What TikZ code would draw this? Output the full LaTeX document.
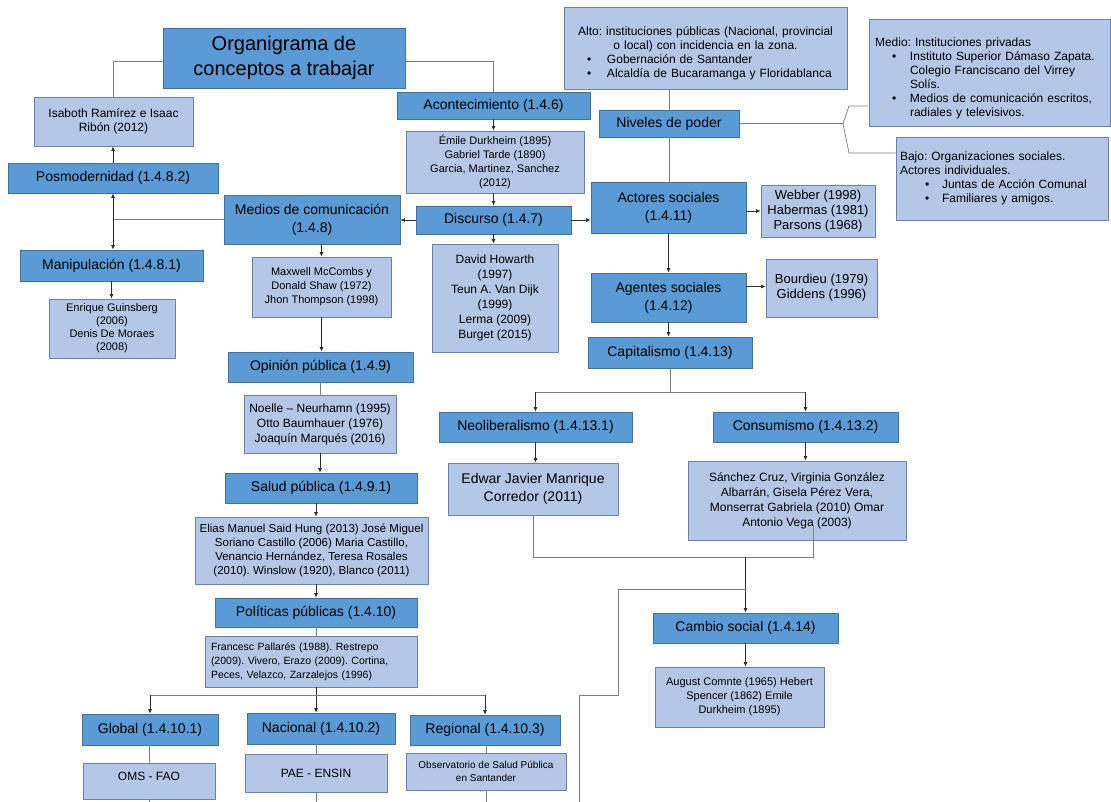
\documentclass[tikz,border=0pt]{standalone}
\usepackage{fontspec}
\setmainfont{Liberation Sans}
\frenchspacing
\usetikzlibrary{arrows.meta,calc}
\definecolor{boxdark}{RGB}{91,155,213}
\definecolor{edgedark}{RGB}{65,113,156}
\definecolor{boxlight}{RGB}{180,199,231}
\definecolor{edgelight}{RGB}{105,130,175}
\definecolor{wiregray}{RGB}{125,125,125}
\definecolor{tipgray}{RGB}{45,45,45}

\begin{document}
\begin{tikzpicture}[x=1pt,y=-1pt,
    box/.style={rectangle,draw,inner sep=2pt,align=center,line width=0.8pt},
    darkbox/.style={box,fill=boxdark,draw=edgedark,font=\fontsize{14}{18}\selectfont},
    lightbox/.style={box,fill=boxlight,draw=edgelight,font=\fontsize{11}{14}\selectfont},
    wire/.style={draw=wiregray,line width=0.7pt},
    pointer/.style={draw=tipgray,line width=0.7pt,-{Latex[length=4.5pt,width=4pt]}}]

            \fill[white] (0,0) rectangle (1111,802);
            \useasboundingbox (0,0) rectangle (1111,802);

            % left side
            \node[darkbox,font=\fontsize{20}{25}\selectfont,minimum width=242pt,minimum height=60pt] (titulo) at (284,58) {Organigrama de\\conceptos a trabajar};
            \node[lightbox,font=\fontsize{12}{14}\selectfont,minimum width=159pt,minimum height=49pt] (ramirez) at (113.5,121.5) {Isaboth Ramírez e Isaac\\Ribón (2012)};
            \node[darkbox,minimum width=210pt,minimum height=30pt] (posmod) at (113,178) {Posmodernidad (1.4.8.2)};
            \node[darkbox,minimum width=176pt,minimum height=49pt] (medios) at (312,219.5) {Medios de comunicación\\(1.4.8)};
            \node[darkbox,minimum width=183pt,minimum height=31pt] (manip) at (111.5,265.5) {Manipulación (1.4.8.1)};
            \node[lightbox,font=\fontsize{11}{13}\selectfont,minimum width=126pt,minimum height=59pt] (guinsberg) at (112,328.5) {Enrique Guinsberg\\(2006)\\Denis De Moraes\\(2008)};
            \node[lightbox,minimum width=139pt,minimum height=60pt] (mccombs) at (321.5,287) {Maxwell McCombs y\\Donald Shaw (1972)\\Jhon Thompson (1998)};
            \node[darkbox,minimum width=185pt,minimum height=30pt] (opinion) at (320.5,367) {Opinión pública (1.4.9)};
            \node[lightbox,font=\fontsize{12}{15}\selectfont,minimum width=152pt,minimum height=58pt] (noelle) at (320,424) {Noelle – Neurhamn (1995)\\Otto Baumhauer (1976)\\Joaquín Marqués (2016)};
            \node[darkbox,minimum width=192pt,minimum height=30pt] (salud) at (321,488) {Salud pública (1.4.9.1)};
            \node[lightbox,font=\fontsize{11.5}{14}\selectfont,minimum width=233pt,minimum height=67pt] (said) at (311.5,550.5) {Elias Manuel Said Hung (2013) José Miguel\\Soriano Castillo (2006) Maria Castillo,\\Venancio Hernández, Teresa Rosales\\(2010). Winslow (1920), Blanco (2011)};
            \node[darkbox,minimum width=202pt,minimum height=29pt] (politicas) at (316,612.5) {Políticas públicas (1.4.10)};
            \node[lightbox,font=\fontsize{10.5}{14}\selectfont,align=left,text width=200pt,inner xsep=6pt,minimum width=212pt,minimum height=51pt] (pallares) at (311,661.5) {Francesc Pallarés (1988). Restrepo\\(2009). Vivero, Erazo (2009). Cortina,\\Peces, Velazco, Zarzalejos (1996)};
            \node[darkbox,minimum width=136pt,minimum height=31pt] (global) at (150,729.5) {Global (1.4.10.1)};
            \node[darkbox,minimum width=148pt,minimum height=31pt] (nacional) at (321,728.5) {Nacional (1.4.10.2)};
            \node[darkbox,minimum width=150pt,minimum height=30pt] (regional) at (485,730) {Regional (1.4.10.3)};
            \node[lightbox,font=\fontsize{12}{14}\selectfont,text height=3pt,text depth=5pt,minimum width=132pt,minimum height=36pt] (oms) at (149,781) {OMS - FAO};
            \node[lightbox,font=\fontsize{12}{14}\selectfont,minimum width=142pt,minimum height=38pt] (pae) at (316,773) {PAE - ENSIN};
            \node[lightbox,font=\fontsize{10}{13}\selectfont,minimum width=160pt,minimum height=37pt] (observatorio) at (486,771.5) {Observatorio de Salud Pública\\en Santander};

            % middle
            \node[darkbox,minimum width=193pt,minimum height=27pt] (acontec) at (493.5,105.5) {Acontecimiento (1.4.6)};
            \node[lightbox,minimum width=178pt,minimum height=62pt] (durkheim) at (495,162) {Émile Durkheim (1895)\\Gabriel Tarde (1890)\\Garcia, Martinez, Sanchez\\(2012)};
            \node[darkbox,minimum width=155pt,minimum height=28pt] (discurso) at (493.5,220) {Discurso (1.4.7)};
            \node[lightbox,font=\fontsize{12}{15}\selectfont,minimum width=126pt,minimum height=108pt] (howarth) at (495,298) {David Howarth\\(1997)\\Teun A. Van Dijk\\(1999)\\Lerma (2009)\\Burget (2015)};

            % right side
            \node[lightbox,font=\fontsize{12}{14}\selectfont,align=left,text width=277pt,inner xsep=3pt,minimum width=283pt,minimum height=82pt] (alto) at (705.5,48) {\centering\rule{0pt}{19pt}Alto: instituciones públicas (Nacional, provincial\\o local) con incidencia en la zona.\par\raggedright\hspace*{20pt}\makebox[20pt][l]{\textbullet}Gobernación de Santander\\\hspace*{20pt}\makebox[20pt][l]{\textbullet}Alcaldía de Bucaramanga y Floridablanca};
            \node[darkbox,minimum width=140pt,minimum height=27pt] (niveles) at (669,123.5) {Niveles de poder};
            \node[lightbox,font=\fontsize{12}{14}\selectfont,align=left,text width=229pt,inner xsep=6pt,minimum width=237pt,minimum height=107pt] (medio) at (989.5,72.5) {\rule{0pt}{20pt}Medio: Instituciones privadas\\\hspace*{17pt}\makebox[18pt][l]{\textbullet}Instituto Superior Dámaso Zapata.\\\hspace*{35pt}Colegio Franciscano del Virrey\\\hspace*{35pt}Solís.\\\hspace*{17pt}\makebox[18pt][l]{\textbullet}Medios de comunicación escritos,\\\hspace*{35pt}radiales y televisivos.};
            \node[lightbox,font=\fontsize{12}{14}\selectfont,align=left,text width=204pt,inner xsep=4pt,minimum width=212pt,minimum height=83pt] (bajo) at (1002,178.5) {Bajo: Organizaciones sociales.\\Actores individuales.\\\hspace*{25pt}\makebox[17pt][l]{\textbullet}Juntas de Acción Comunal\\\hspace*{25pt}\makebox[17pt][l]{\textbullet}Familiares y amigos.};
            \node[darkbox,minimum width=155pt,minimum height=51pt] (actores) at (668.5,207.5) {Actores sociales\\(1.4.11)};
            \node[lightbox,font=\fontsize{13}{15}\selectfont,minimum width=114pt,minimum height=52pt] (webber) at (818,211) {Webber (1998)\\Habermas (1981)\\Parsons (1968)};
            \node[darkbox,minimum width=155pt,minimum height=49pt] (agentes) at (668.5,297.5) {Agentes sociales\\(1.4.12)};
            \node[lightbox,font=\fontsize{13}{15}\selectfont,minimum width=111pt,minimum height=58pt] (bourdieu) at (821.5,288) {Bourdieu (1979)\\Giddens (1996)};
            \node[darkbox,minimum width=164pt,minimum height=31pt] (capital) at (670,352.5) {Capitalismo (1.4.13)};
            \node[darkbox,minimum width=193pt,minimum height=30pt] (neolib) at (535.5,427) {Neoliberalismo (1.4.13.1)};
            \node[darkbox,minimum width=185pt,minimum height=30pt] (consumo) at (805.5,427) {Consumismo (1.4.13.2)};
            \node[lightbox,font=\fontsize{14}{18}\selectfont,minimum width=170pt,minimum height=52pt] (manrique) at (533,489) {Edwar Javier Manrique\\Corredor (2011)};
            \node[lightbox,font=\fontsize{12}{15}\selectfont,minimum width=218pt,minimum height=79pt] (sanchez) at (797,500.5) {Sánchez Cruz, Virginia González\\Albarrán, Gisela Pérez Vera,\\Monserrat Gabriela (2010) Omar\\Antonio Vega (2003)};
            \node[darkbox,minimum width=185pt,minimum height=30pt] (cambio) at (745.5,628) {Cambio social (1.4.14)};
            \node[lightbox,minimum width=169pt,minimum height=60pt] (comte) at (739.5,697) {August Comnte (1965) Hebert\\Spencer (1862) Emile\\Durkheim (1895)};

            % joints and free ends
            \coordinate (medjoin) at (medios.west -| posmod.south);
            \coordinate (polsplit) at (316,695);
            \coordinate (capjoin) at ($(capital.south)+(0,24)$);
            \coordinate (brace) at (843,123.5);
            \coordinate (braceup) at (849,106);
            \coordinate (bracedown) at (849,153);
            \coordinate (sanchezfoot) at ([xshift=16pt,yshift=15pt]sanchez.south);
            \coordinate (mergeL) at ($(manrique.south)+(0,42)$);
            \coordinate (mergeC) at (mergeL -| cambio.north);
            \coordinate (detour) at ($(mergeC)+(0,32)$);
            \coordinate (offpage) at (579,815);

            % connectors, left
            \draw[wire] ([yshift=-3pt]titulo.west) -| (ramirez.north);
            \draw[pointer] (posmod.north) -- (posmod.north |- ramirez.south);
            \draw[wire] (medios.west) -- (medjoin);
            \draw[pointer] (medjoin) -- (posmod.south);
            \draw[pointer] (medjoin) -- (medjoin |- manip.north);
            \draw[pointer] (manip.south) -- (manip.south |- guinsberg.north);
            \draw[pointer] (mccombs.north |- medios.south) -- (mccombs.north);
            \draw[pointer] (mccombs.south) -- (mccombs.south |- opinion.north);
            \draw[wire] (opinion.south) -- (opinion.south |- noelle.north);
            \draw[pointer] (noelle.south) -- (noelle.south |- salud.north);
            \draw[pointer] (politicas.north |- salud.south) -- (politicas.north |- said.north);
            \draw[pointer] (politicas.north |- said.south) -- (politicas.north);
            \draw[wire] (politicas.south) -- (politicas.south |- pallares.north);
            \draw[pointer] (polsplit |- pallares.south) -- (polsplit |- nacional.north);
            \draw[wire] (polsplit -| global.north) -- (polsplit -| regional.north);
            \draw[pointer] (polsplit -| global.north) -- (global.north);
            \draw[pointer] (polsplit -| regional.north) -- (regional.north);
            \draw[wire] (oms.north |- global.south) -- (oms.north);
            \draw[wire] (oms.south) -- (oms.south |- offpage);
            \draw[wire] (polsplit |- nacional.south) -- (polsplit |- pae.north);
            \draw[wire] (pae.south) -- (pae.south |- offpage);
            \draw[wire] (observatorio.north |- regional.south) -- (observatorio.north);
            \draw[wire] (observatorio.south) -- (observatorio.south |- offpage);

            % connectors, middle
            \draw[wire] ([yshift=-3pt]titulo.east) -| (acontec.north);
            \draw[pointer] (acontec.south) -- (acontec.south |- durkheim.north);
            \draw[pointer] (acontec.south |- durkheim.south) -- (discurso.north);
            \draw[pointer] (discurso.west) -- (discurso.west -| medios.east);
            \draw[pointer] (discurso.east) -- (discurso.east -| actores.west);
            \draw[pointer] (discurso.south) -- (discurso.south |- howarth.north);

            % connectors, right
            \draw[wire] (niveles.north) -- (niveles.north |- alto.south);
            \draw[wire] (niveles.south) -- (niveles.south |- actores.north);
            \draw[wire] (niveles.east) -- (brace) -- (braceup) -- (braceup -| medio.west);
            \draw[wire] (brace) -- (bracedown) -- (bracedown -| bajo.west);
            \draw[pointer] ([yshift=-3.5pt]actores.east) -- ([yshift=-3.5pt]actores.east -| webber.west);
            \draw[pointer] (actores.south) -- (actores.south |- agentes.north);
            \draw[pointer] ([yshift=11pt]agentes.east) -- ([yshift=11pt]agentes.east -| bourdieu.west);
            \draw[pointer] (agentes.south) -- (agentes.south |- capital.north);
            \draw[wire] (capital.south) -- (capjoin);
            \draw[wire] (capjoin -| neolib.north) -- (capjoin -| consumo.north);
            \draw[pointer] (capjoin -| neolib.north) -- (neolib.north);
            \draw[pointer] (capjoin -| consumo.north) -- (consumo.north);
            \draw[pointer] (neolib.south) -- (neolib.south |- manrique.north);
            \draw[pointer] (consumo.south) -- (consumo.south |- sanchez.north);
            \draw[wire] (manrique.south) -- (mergeL) -- (mergeL -| sanchezfoot) -- (sanchezfoot);
            \draw[pointer] (mergeC) -- (cambio.north);
            \draw[wire] (detour) -| (618,695) -| (offpage);
            \draw[pointer] (cambio.south) -- (cambio.south |- comte.north);

\end{tikzpicture}
\end{document}
